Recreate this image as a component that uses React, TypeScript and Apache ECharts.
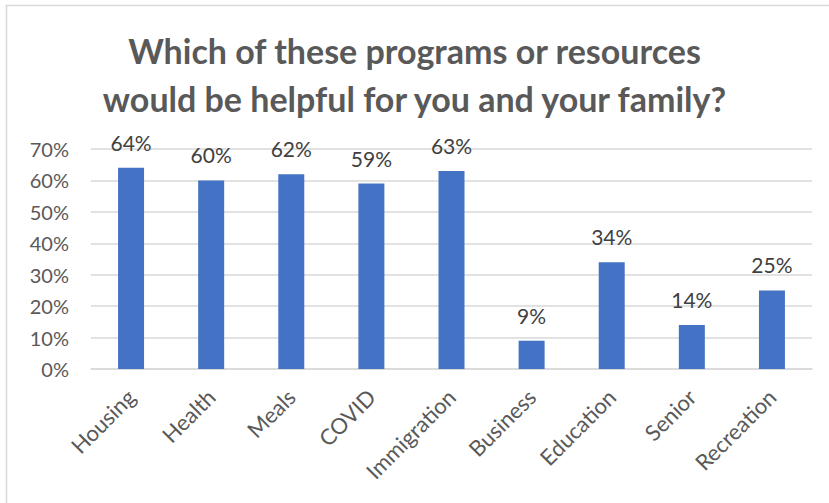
import React, { useEffect, useRef } from "react";
import * as echarts from "echarts";

const titleLines = [
  "Which of these programs or resources",
  "would be helpful for you and your family?",
];
const categories = [
  "Housing",
  "Health",
  "Meals",
  "COVID",
  "Immigration",
  "Business",
  "Education",
  "Senior",
  "Recreation",
];
const values = [64, 60, 62, 59, 63, 9, 34, 14, 25];
const yTicks = [0, 10, 20, 30, 40, 50, 60, 70];

const FONT = "Lato, 'Open Sans', sans-serif";

export default function App() {
  const ref = useRef<HTMLDivElement>(null);
  useEffect(() => {
    document.body.style.margin = "0";
    if (!ref.current) return;
    const chart = echarts.init(ref.current, undefined, { renderer: "svg" });
    chart.setOption({
      animation: false,
      backgroundColor: "#ffffff",
      textStyle: { fontFamily: FONT },
      title: {
        text: titleLines.join("\n"),
        left: "center",
        top: 21,
        padding: [5, 0, 5, 14],
        textStyle: {
          fontFamily: FONT,
          fontSize: 34,
          fontWeight: "bold",
          color: "#595959",
          lineHeight: 48,
        },
      },
      graphic: [
        {
          type: "rect",
          shape: { x: 6.5, y: 5.5, width: 840, height: 520 },
          style: { fill: "none", stroke: "#d9d9d9", lineWidth: 1.5 },
          silent: true,
          z: -1,
        },
      ],
      grid: { left: 91, right: 17, top: 149, bottom: 134 },
      xAxis: {
        type: "category",
        data: categories,
        axisLine: { lineStyle: { color: "#d9d9d9", width: 1.5 } },
        axisTick: { show: false },
        axisLabel: {
          rotate: 45,
          interval: 0,
          margin: 24,
          fontSize: 22,
          color: "#595959",
          fontFamily: FONT,
        },
      },
      yAxis: {
        type: "value",
        min: yTicks[0],
        max: yTicks[yTicks.length - 1],
        interval: 10,
        axisLine: { show: false },
        axisTick: { show: false },
        splitLine: { lineStyle: { color: "#d9d9d9", width: 1.5 } },
        axisLabel: {
          formatter: "{value}%",
          fontSize: 20,
          color: "#595959",
          margin: 22,
          fontFamily: FONT,
        },
      },
      series: [
        {
          type: "bar",
          data: values,
          barWidth: 26,
          itemStyle: { color: "#4472C4" },
          label: {
            show: true,
            position: "top",
            distance: 15,
            formatter: "{c}%",
            fontSize: 21,
            color: "#404040",
            fontFamily: FONT,
          },
        },
      ],
    });
    return () => chart.dispose();
  }, []);
  return <div ref={ref} style={{ width: 829, height: 503 }} />;
}
